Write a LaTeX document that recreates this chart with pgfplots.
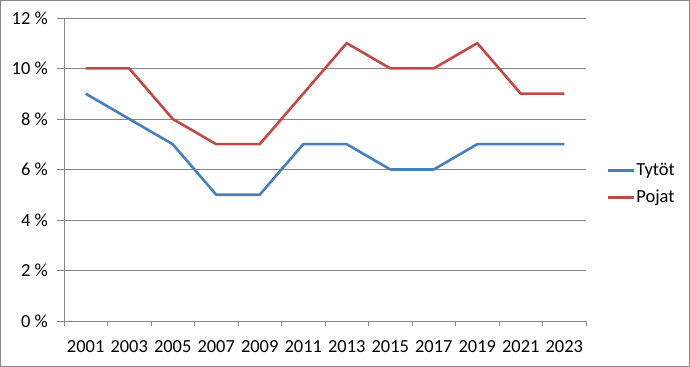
\documentclass[border=0pt]{standalone}
\usepackage{fontspec}
\setmainfont{Carlito}
\usepackage{pgfplots}
\pgfplotsset{compat=1.18}
\definecolor{cblue}{RGB}{74,126,187}
\definecolor{cred}{RGB}{190,75,72}
\definecolor{cgrid}{RGB}{134,134,134}
\begin{document}
\begin{tikzpicture}[x=1bp,y=1bp]
\draw[cgrid,line width=0.8bp] (0.5,0.5) rectangle (689.5,366.5);
\begin{axis}[
  at={(64bp,46bp)}, anchor=south west,
  scale only axis, width=522bp, height=303bp,
  xmin=-0.5, xmax=11.5, ymin=0, ymax=12,
  axis x line*=bottom, axis y line*=left,
  axis line style={cgrid, line width=0.8bp, -},
  xtick={0,...,11},
  xticklabels={2001,2003,2005,2007,2009,2011,2013,2015,2017,2019,2021,2023},
  major x tick style={draw=none},
  minor xtick={-0.5,0.5,...,11.5},
  minor x tick style={cgrid, line width=0.8bp},
  minor tick length=5bp,
  ytick={0,2,...,12},
  yticklabels={0 \%,2 \%,4 \%,6 \%,8 \%,10 \%,12 \%},
  ytick style={cgrid, line width=0.8bp},
  major tick length=7bp,
  tick align=outside,
  ymajorgrids, grid style={cgrid, line width=0.8bp},
  tick label style={font=\fontsize{18.5}{22}\selectfont, text=black, inner sep=0pt},
  xticklabel style={anchor=north, yshift=-12bp},
  yticklabel style={anchor=east, xshift=-9bp},
  legend style={at={(1.0,0.452)}, anchor=west, draw=none, fill=none,
    font=\fontsize{18.5}{22}\selectfont, row sep=10bp, xshift=20bp,
    inner sep=0pt, nodes={inner sep=1.5bp}},
  legend cell align=left,
  legend image code/.code={\draw[#1] (0bp,0bp) -- (26bp,0bp);},
]
\addplot[cblue, line width=2.6bp, line join=round] coordinates {
(0,9) (1,8) (2,7) (3,5) (4,5) (5,7) (6,7) (7,6) (8,6) (9,7) (10,7) (11,7)};
\addlegendentry{Tytöt}
\addplot[cred, line width=2.6bp, line join=round] coordinates {
(0,10) (1,10) (2,8) (3,7) (4,7) (5,9) (6,11) (7,10) (8,10) (9,11) (10,9) (11,9)};
\addlegendentry{Pojat}
\end{axis}
\end{tikzpicture}
\end{document}
